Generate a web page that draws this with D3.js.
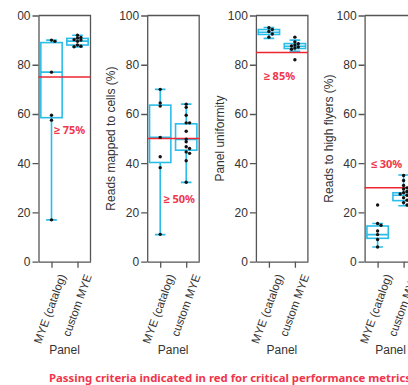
<!DOCTYPE html>
<html>
<head>
  <meta charset="UTF-8">
  <style>
    body { margin: 0; background: white; }
    svg { display: block; }
    .axis text { font-family: "Liberation Sans", Arial, sans-serif; font-size: 12px; fill: #333; }
    .axis path, .axis line { stroke: #555; stroke-width: 1.3px; }
    .lab { font-family: "Liberation Sans", Arial, sans-serif; font-size: 12px; fill: #333; }
    .crit { font-family: "Noto Sans", sans-serif; font-weight: 700; font-size: 11px; fill: #f0364b; }
  </style>
</head>
<body>
<svg></svg>
<script src="https://d3js.org/d3.v7.min.js"></script>
<script>

const width = 408, height = 385;

// data
const groups = ["MYE (catalog)", "custom MYE"];
const metrics = ["", "Reads mapped to cells (%)", "Panel uniformity", "Reads to high flyers (%)"];
const thresholds = [75, 50, 85, 30];
const criteria = ["\u2265 75%", "\u2265 50%", "\u2265 85%", "\u2264 30%"];
const yTicks = [0, 20, 40, 60, 80, 100];

// box stats per panel: [min, q1, median, q3, max] for each group
const boxCatalog = [
  [17, 58.5, 77, 89, 90],
  [11, 40.3, 50.5, 63.6, 70],
  [90.7, 92.3, 93.2, 94.3, 95.1],
  [6, 9.5, 11, 14.5, 15.5]
];
const boxCustom = [
  [87.2, 88, 89.6, 90.7, 92],
  [32.2, 45.3, 49.7, 56, 64],
  [85.5, 86.6, 87.5, 88.6, 90],
  [22.7, 24.8, 27, 28, 35.2]
];

// individual samples
const ptsCatalog = [
  [90, 89.5, 77, 59.5, 57.5, 17],
  [70, 64.5, 63.2, 50.5, 42.6, 38.2, 11.1],
  [95, 94.3, 93.5, 92.5, 91.2],
  [23, 15.5, 14.8, 12.5, 11, 9, 6]
];
const ptsCustom = [
  [92, 91.1, 90.8, 90.2, 90, 89.5, 88, 87.5, 87.3],
  [64, 62.7, 59.5, 56.4, 56.4, 53, 49.8, 48.7, 46.7, 46, 44.6, 44, 41, 32.3],
  [91.2, 89.3, 88.5, 88, 87.6, 87.2, 86.8, 86.3, 82],
  [35, 33, 31, 30, 29.5, 28.5, 28, 27.5, 27, 26, 25, 24, 23]
];

// where the criterion text sits: [x offset in plot, value]
const critAt = [[31, 53.5], [32, 25.7], [23.5, 75.8], [22, 40]];

const plotTop = 15.5, plotBottom = 261.7, plotW = 52, gap = 108.7, firstLeft = 38.5;
const cyan = "#2bbde8", red = "#ee2630";

let svg = d3.select("svg").attr("width", width).attr("height", height);

// the reference is a crop of a wider figure
svg.append("defs").append("clipPath").attr("id", "crop")
  .append("rect").attr("x", 17.5).attr("y", 0).attr("width", width).attr("height", height);

let root = svg.append("g").attr("clip-path", "url(#crop)");

let y = d3.scaleLinear().domain([0, 100]).range([plotBottom, plotTop]);

metrics.forEach((m, i) => {
  let left = firstLeft + i * gap;
  let x = d3.scalePoint().domain(groups).range([left, left + plotW]).padding(0.5);
  let bw = x.step() * 0.82;
  let g = root.append("g");

  // frame
  g.append("path")
    .attr("d", `M${left},${plotTop}H${left + plotW}V${plotBottom}`)
    .attr("fill", "none").attr("stroke", "#555").attr("stroke-width", 1.3);

  g.append("g").attr("class", "axis")
    .attr("transform", `translate(${left},0)`)
    .call(d3.axisLeft(y).tickValues(yTicks).tickSize(6).tickPadding(2).tickSizeOuter(0));

  let xa = g.append("g").attr("class", "axis")
    .attr("transform", `translate(0,${plotBottom})`)
    .call(d3.axisBottom(x).tickSize(6).tickSizeOuter(0));
  xa.selectAll("text")
    .attr("text-anchor", "end")
    .attr("dy", 0)
    .attr("y", 0)
    .style("font-size", "11.5px")
    .attr("transform", "translate(14,14.3) rotate(-70)");

  g.append("text").attr("class", "lab")
    .attr("x", left + plotW / 2).attr("y", 354)
    .attr("text-anchor", "middle").text("Panel");

  g.append("text").attr("class", "lab")
    .attr("transform", `translate(${left - 36},${(plotTop + plotBottom) / 2}) rotate(-90)`)
    .attr("text-anchor", "middle").attr("dominant-baseline", "central")
    .text(m);

  // boxes
  [boxCatalog[i], boxCustom[i]].forEach((s, j) => {
    let cx = x(groups[j]);
    let bg = g.append("g").attr("stroke", cyan).attr("stroke-width", 1.6).attr("fill", "none");
    bg.append("line").attr("x1", cx).attr("x2", cx).attr("y1", y(s[0])).attr("y2", y(s[1]));
    bg.append("line").attr("x1", cx).attr("x2", cx).attr("y1", y(s[3])).attr("y2", y(s[4]));
    [s[0], s[4]].forEach(v => {
      bg.append("line").attr("x1", cx - bw / 4).attr("x2", cx + bw / 4).attr("y1", y(v)).attr("y2", y(v));
    });
    bg.append("rect").attr("x", cx - bw / 2).attr("y", y(s[3]))
      .attr("width", bw).attr("height", y(s[1]) - y(s[3]));
    bg.append("line").attr("x1", cx - bw / 2).attr("x2", cx + bw / 2).attr("y1", y(s[2])).attr("y2", y(s[2]));
  });

  // threshold line
  g.append("line")
    .attr("x1", left).attr("x2", left + plotW)
    .attr("y1", y(thresholds[i])).attr("y2", y(thresholds[i]))
    .attr("stroke", red).attr("stroke-width", 1.5);

  // dots, spread sideways when they overlap
  [ptsCatalog[i], ptsCustom[i]].forEach((pts, j) => {
    let cx = x(groups[j]);
    let r = 1.7, placed = [];
    pts.forEach(v => {
      let py = y(v), offs = [0, 3.4, -3.4, 6.8, -6.8], px = cx;
      for (let o of offs) {
        if (!placed.some(p => Math.abs(p[1] - py) < 2.6 && Math.abs(p[0] - (cx + o)) < 3.2)) { px = cx + o; break; }
      }
      placed.push([px, py]);
    });
    g.selectAll(null).data(placed).enter().append("circle")
      .attr("cx", d => d[0]).attr("cy", d => d[1]).attr("r", r).attr("fill", "#111");
  });

  g.append("text").attr("class", "crit")
    .attr("x", left + critAt[i][0]).attr("y", y(critAt[i][1]))
    .attr("text-anchor", "middle").attr("dominant-baseline", "central")
    .text(criteria[i]);
});

svg.append("text").attr("class", "crit")
  .attr("x", 49).attr("y", 382)
  .attr("textLength", 362).attr("lengthAdjust", "spacingAndGlyphs")
  .text("Passing criteria indicated in red for critical performance metrics");

</script>
</body>
</html>
